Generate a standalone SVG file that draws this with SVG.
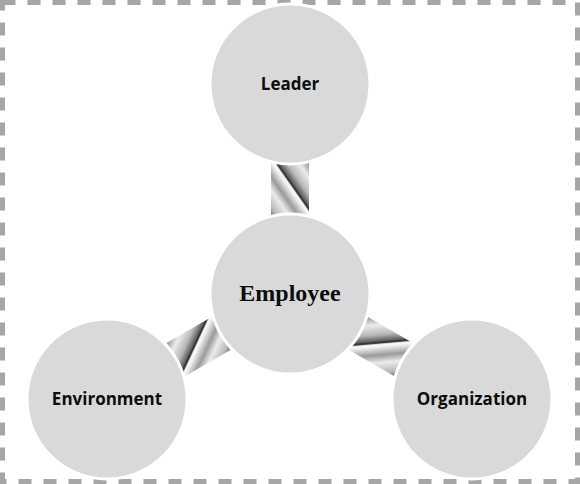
<svg xmlns="http://www.w3.org/2000/svg" width="580" height="484" viewBox="0 0 580 484">
  <defs>
    <linearGradient id="stripeGrad" x1="0" y1="0" x2="1" y2="0">
      <stop offset="0" stop-color="#f2f2f2"/>
      <stop offset="0.22" stop-color="#9a9a9a"/>
      <stop offset="0.42" stop-color="#ececec"/>
      <stop offset="0.68" stop-color="#b8b8b8"/>
      <stop offset="0.86" stop-color="#5a5a5a"/>
      <stop offset="0.9" stop-color="#111111"/>
      <stop offset="0.94" stop-color="#ffffff"/>
      <stop offset="1" stop-color="#f2f2f2"/>
    </linearGradient>
    <pattern id="metal" width="38" height="38" patternUnits="userSpaceOnUse" patternTransform="rotate(55)">
      <rect width="38" height="38" fill="url(#stripeGrad)"/>
    </pattern>
    <style>
      .node { fill: #d9d9d9; stroke: #ffffff; stroke-width: 3; }
      .label { font-family: "Open Sans", "Liberation Sans", sans-serif; font-weight: bold; font-size: 17px; fill: #0d0d0d; text-anchor: middle; }
      .main { font-family: "Liberation Serif", "Times New Roman", serif; font-weight: bold; font-size: 24px; fill: #0d0d0d; text-anchor: middle; }
      .bar { fill: url(#metal); }
    </style>
  </defs>

  <rect x="2.5" y="2.5" width="575" height="479" fill="#ffffff" stroke="#a6a6a6" stroke-width="5" stroke-dasharray="13 12"/>

  <g id="connectors">
    <g transform="translate(290,189) rotate(90)"><rect class="bar" x="-26" y="-19" width="52" height="38"/></g>
    <g transform="translate(198.5,346.5) rotate(-30)"><rect class="bar" x="-26" y="-19" width="52" height="38"/></g>
    <g transform="translate(381,346.5) rotate(30)"><rect class="bar" x="-26" y="-19" width="52" height="38"/></g>
  </g>

  <g id="leader">
    <circle class="node" cx="290" cy="84" r="80"/>
    <text class="label" x="290" y="90">Leader</text>
  </g>
  <g id="employee">
    <circle class="node" cx="290" cy="294" r="80"/>
    <text class="main" x="290" y="301">Employee</text>
  </g>
  <g id="environment">
    <circle class="node" cx="107" cy="399" r="80"/>
    <text class="label" x="107" y="405">Environment</text>
  </g>
  <g id="organization">
    <circle class="node" cx="472" cy="399" r="80"/>
    <text class="label" x="472" y="405">Organization</text>
  </g>
</svg>
